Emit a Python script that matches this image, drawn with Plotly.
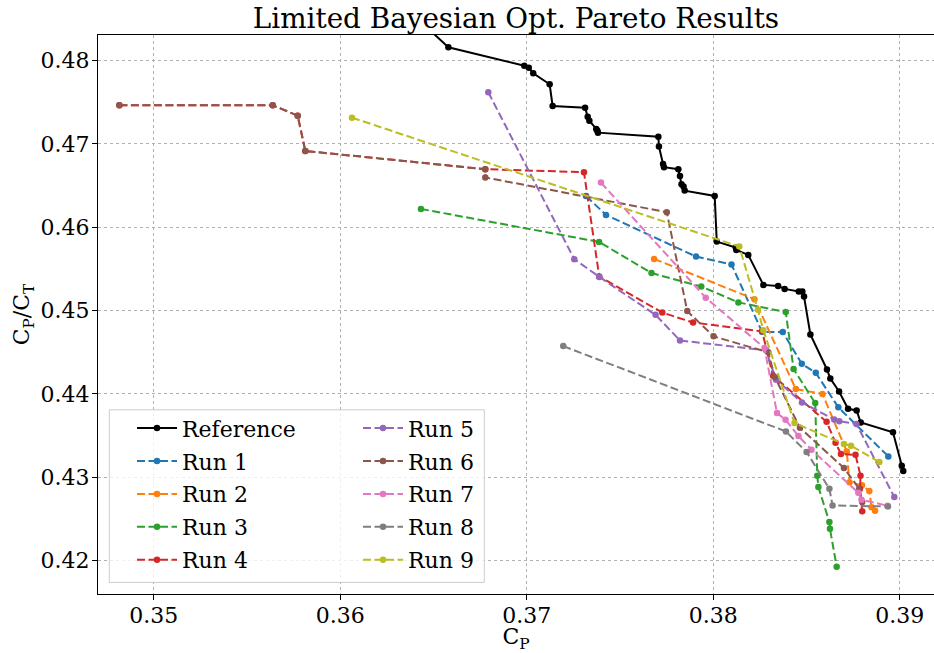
import plotly.graph_objects as go

# ---------------- data ----------------
ref_x = [0.36364, 0.36580, 0.36987, 0.37011, 0.37035, 0.37123, 0.37139, 0.37313, 0.37327, 0.37336,
         0.37373, 0.37379, 0.37382, 0.37706, 0.37709, 0.37731, 0.37736, 0.37813, 0.37822, 0.37830,
         0.37841, 0.37847, 0.38008, 0.38019, 0.38121, 0.38124, 0.38188, 0.38269, 0.38348, 0.38383,
         0.38459, 0.38478, 0.38487, 0.38521, 0.38610, 0.38628, 0.38675, 0.38723, 0.38769, 0.38791,
         0.38964, 0.39011, 0.39019]
ref_y = [0.48608, 0.48161, 0.47940, 0.47916, 0.47849, 0.47717, 0.47456, 0.47436, 0.47328, 0.47280,
         0.47180, 0.47160, 0.47136, 0.47088, 0.46970, 0.46760, 0.46721, 0.46697, 0.46616, 0.46517,
         0.46488, 0.46440, 0.46376, 0.45828, 0.45756, 0.45728, 0.45668, 0.45308, 0.45296, 0.45260,
         0.45228, 0.45228, 0.45168, 0.44712, 0.44292, 0.44184, 0.44028, 0.43820, 0.43800, 0.43656,
         0.43538, 0.43136, 0.43073]

run1_x = [0.37318, 0.37425, 0.37908, 0.38098, 0.38262, 0.38373, 0.38475, 0.38550, 0.38671, 0.38939]
run1_y = [0.46376, 0.46148, 0.45648, 0.45554, 0.44744, 0.44741, 0.44360, 0.44252, 0.43838, 0.43248]

run2_x = [0.37683, 0.38221, 0.38443, 0.38586, 0.38716, 0.38731, 0.38798, 0.38837, 0.38849, 0.38868]
run2_y = [0.45620, 0.45137, 0.44057, 0.43998, 0.43308, 0.42938, 0.42902, 0.42833, 0.42638, 0.42596]

run3_x = [0.36433, 0.37388, 0.37669, 0.37936, 0.38135, 0.38389, 0.38431, 0.38547, 0.38558, 0.38564,
          0.38623, 0.38626, 0.38662]
run3_y = [0.46220, 0.45824, 0.45450, 0.45288, 0.45098, 0.44982, 0.44297, 0.43889, 0.43016, 0.42881,
          0.42461, 0.42380, 0.41924]

run4_x = [0.34816, 0.35638, 0.35772, 0.35813, 0.36778, 0.37307, 0.37389, 0.37727, 0.37892, 0.38262,
          0.38321, 0.38608, 0.38656, 0.38685, 0.38763, 0.38790, 0.38787, 0.38799]
run4_y = [0.47465, 0.47465, 0.47340, 0.46916, 0.46697, 0.46661, 0.45408, 0.44976, 0.44856, 0.44750,
          0.44216, 0.43664, 0.43412, 0.43277, 0.43268, 0.43016, 0.42860, 0.42590]

run5_x = [0.36794, 0.37255, 0.37389, 0.37691, 0.37822, 0.38283, 0.38337, 0.38476, 0.38649, 0.38676,
          0.38768, 0.38971]
run5_y = [0.47621, 0.45617, 0.45404, 0.44948, 0.44640, 0.44522, 0.44168, 0.43896, 0.43692, 0.43670,
          0.43638, 0.42761]

run6_x = [0.34816, 0.35638, 0.35772, 0.35813, 0.36778, 0.36778, 0.37751, 0.37861, 0.38002, 0.38295,
          0.38331, 0.38465, 0.38701, 0.38783, 0.38799]
run6_y = [0.47465, 0.47465, 0.47340, 0.46916, 0.46697, 0.46598, 0.46181, 0.44993, 0.44690, 0.44498,
          0.44198, 0.43592, 0.43109, 0.42860, 0.42702]

run7_x = [0.37398, 0.37960, 0.38275, 0.38342, 0.38388, 0.38457, 0.38527, 0.38778, 0.38795, 0.38935]
run7_y = [0.46536, 0.45155, 0.44549, 0.43769, 0.43688, 0.43494, 0.43328, 0.42812, 0.42728, 0.42656]

run8_x = [0.37196, 0.38390, 0.38501, 0.38623, 0.38640, 0.38937]
run8_y = [0.44573, 0.43548, 0.43301, 0.42860, 0.42660, 0.42647]

run9_x = [0.36063, 0.38140, 0.38240, 0.38269, 0.38436, 0.38701, 0.38739, 0.38891]
run9_y = [0.47316, 0.45768, 0.45008, 0.44762, 0.43649, 0.43397, 0.43376, 0.43181]

run_names = ["Run 1", "Run 2", "Run 3", "Run 4", "Run 5", "Run 6", "Run 7", "Run 8", "Run 9"]
run_colors = ["#1f77b4", "#ff7f0e", "#2ca02c", "#d62728", "#9467bd",
              "#8c564b", "#e377c2", "#7f7f7f", "#bcbd22"]
runs = [(run1_x, run1_y), (run2_x, run2_y), (run3_x, run3_y), (run4_x, run4_y), (run5_x, run5_y),
        (run6_x, run6_y), (run7_x, run7_y), (run8_x, run8_y), (run9_x, run9_y)]

x_ticks = [0.35, 0.36, 0.37, 0.38, 0.39]
y_ticks = [0.42, 0.43, 0.44, 0.45, 0.46, 0.47, 0.48]

# ---------------- figure ----------------
FONT = "DejaVu Serif"
fig = go.Figure()
fig.add_trace(go.Scatter(
    x=ref_x, y=ref_y, mode="lines+markers", name="Reference",
    line=dict(color="black", width=2), marker=dict(color="black", size=6.5),
    legend="legend", legendgroup="ref"))

for i, ((xs, ys), name, col) in enumerate(zip(runs, run_names, run_colors)):
    fig.add_trace(go.Scatter(
        x=xs, y=ys, mode="lines+markers", name=name,
        line=dict(color=col, width=2, dash="8px,3.5px"),
        marker=dict(color=col, size=6.5),
        legend="legend" if i < 4 else "legend2", legendgroup=name))

axis_common = dict(
    showgrid=True, gridcolor="#b0b0b0", griddash="dot", gridwidth=1,
    showline=True, linecolor="black", linewidth=1.2, mirror=True,
    ticks="outside", ticklen=5, tickwidth=1.2, tickcolor="black",
    zeroline=False, tickfont=dict(family=FONT, size=22, color="black"),
)

LEG_TOP = 407.5
fig.update_layout(
    width=934, height=653,
    margin=dict(l=98, r=0, t=35, b=58.7),
    paper_bgcolor="white", plot_bgcolor="white",
    font=dict(family=FONT, color="black"),
    title=dict(text="Limited Bayesian Opt. Pareto Results", x=0.5, xref="paper",
               y=1 - 18 / 653, yref="container", yanchor="middle",
               font=dict(family=FONT, size=27.8, color="black")),
    xaxis=dict(range=[0.347013, 0.391839], tickvals=x_ticks,
               ticktext=[f"{v:.2f}" for v in x_ticks], ticklabelstandoff=-4,
               title=dict(text="C<sub>P</sub>", standoff=0,
                          font=dict(family=FONT, size=22, color="black")),
               **axis_common),
    yaxis=dict(range=[0.415965, 0.483084], tickvals=y_ticks,
               ticktext=[f"{v:.2f}" for v in y_ticks], ticklabelstandoff=-2,
               title=dict(text="C<sub>P</sub>/C<sub>T</sub>", standoff=4,
                          font=dict(family=FONT, size=22, color="black")),
               **axis_common),
    legend=dict(x=(132 - 98) / 836, y=(594.3 - LEG_TOP) / 559.3, xanchor="left", yanchor="top",
                bgcolor="rgba(0,0,0,0)", borderwidth=0, tracegroupgap=1.3,
                itemwidth=40, font=dict(family=FONT, size=22, color="black")),
    legend2=dict(x=(358 - 98) / 836, y=(594.3 - LEG_TOP) / 559.3, xanchor="left", yanchor="top",
                 bgcolor="rgba(0,0,0,0)", borderwidth=0, tracegroupgap=1.3,
                 itemwidth=40, font=dict(family=FONT, size=22, color="black")),
    shapes=[dict(type="rect", xref="paper", yref="paper",
                 x0=(109.3 - 98) / 836, x1=(484.3 - 98) / 836,
                 y0=(594.3 - 582.7) / 559.3, y1=(594.3 - 410) / 559.3,
                 fillcolor="rgba(255,255,255,0.8)", line=dict(color="#cccccc", width=1),
                 layer="above")],
)

fig.write_html("out.html")
